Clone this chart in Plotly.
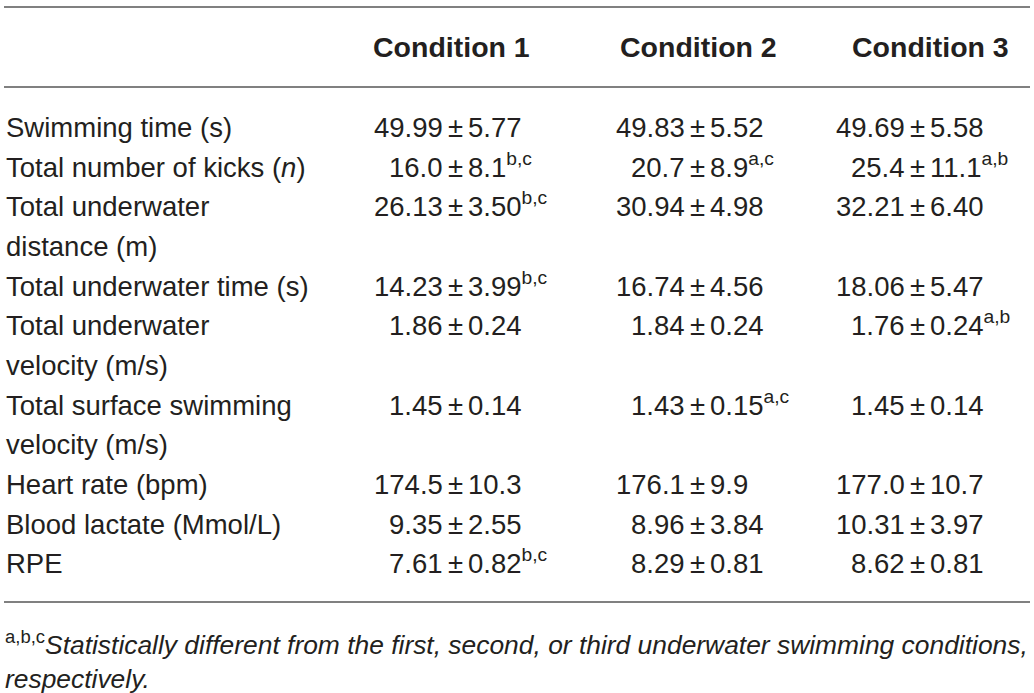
import plotly.graph_objects as go

# ---------------- data ----------------
conditions = ["Condition 1", "Condition 2", "Condition 3"]
row_labels = [
    ["Swimming time (s)"],
    ["Total number of kicks (<i>n</i>)"],
    ["Total underwater", "distance (m)"],
    ["Total underwater time (s)"],
    ["Total underwater", "velocity (m/s)"],
    ["Total surface swimming", "velocity (m/s)"],
    ["Heart rate (bpm)"],
    ["Blood lactate (Mmol/L)"],
    ["RPE"],
]
c1_mean = ["49.99", "16.0", "26.13", "14.23", "1.86", "1.45", "174.5", "9.35", "7.61"]
c1_sd   = ["5.77", "8.1", "3.50", "3.99", "0.24", "0.14", "10.3", "2.55", "0.82"]
c1_sig  = ["", "b,c", "b,c", "b,c", "", "", "", "", "b,c"]
c2_mean = ["49.83", "20.7", "30.94", "16.74", "1.84", "1.43", "176.1", "8.96", "8.29"]
c2_sd   = ["5.52", "8.9", "4.98", "4.56", "0.24", "0.15", "9.9", "3.84", "0.81"]
c2_sig  = ["", "a,c", "", "", "", "a,c", "", "", ""]
c3_mean = ["49.69", "25.4", "32.21", "18.06", "1.76", "1.45", "177.0", "10.31", "8.62"]
c3_sd   = ["5.58", "11.1", "6.40", "5.47", "0.24", "0.14", "10.7", "3.97", "0.81"]
c3_sig  = ["", "a,b", "", "", "a,b", "", "", "", ""]
footnote_sup = "a,b,c"
footnote_lines = [
    "Statistically different from the first, second, or third underwater swimming conditions,",
    "respectively.",
]

# ---------------- layout params ----------------
W, H = 1034, 693
FONT = "Liberation Sans, Arial, Helvetica, sans-serif"
TXT = "#231f20"
FS = 27.5
pm_x = [455, 697, 917]       # x of the ± sign per column
head_x = [451, 698, 930]
head_y = 47
line0_y, line_step = 127.5, 39.68
gap = 11.5
base_off = 16.5              # from text centre to bottom of text box

cols = [(c1_mean, c1_sd, c1_sig), (c2_mean, c2_sd, c2_sig), (c3_mean, c3_sd, c3_sig)]

fig = go.Figure()
ann = []

def add(text, x, y, xanchor, size=FS, color=TXT, yanchor="bottom"):
    ann.append(dict(text=text, x=x, y=y, xref="x", yref="y", xanchor=xanchor,
                    yanchor=yanchor, showarrow=False, borderpad=0,
                    font=dict(family=FONT, size=size, color=color)))

for j, c in enumerate(conditions):
    add("<b>" + c + "</b>", head_x[j], head_y, "center", size=28.5, yanchor="middle")

line_idx = 0
for i, lab in enumerate(row_labels):
    y0 = line0_y + line_step * line_idx + base_off
    for k, part in enumerate(lab):
        add(part, 5, line0_y + line_step * (line_idx + k) + base_off, "left")
    for j, (m, s, g) in enumerate(cols):
        add(m[i], pm_x[j] - gap, y0, "right")
        add("±", pm_x[j], y0, "center")
        sd_txt = s[i] + (("<sup>" + g[i] + "</sup>") if g[i] else "")
        add(sd_txt, pm_x[j] + gap, y0, "left")
    line_idx += len(lab)

add("<sup>" + footnote_sup + "</sup><i>" + footnote_lines[0] + "</i>", 4, 643, "left",
    size=26.4, yanchor="middle")
add("<i>" + footnote_lines[1] + "</i>", 4, 679, "left", size=26.4, yanchor="middle")

shapes = []
for yy in [7, 87, 602]:
    shapes.append(dict(type="line", xref="x", yref="y", x0=4, x1=1030, y0=yy, y1=yy,
                       line=dict(color="#808080", width=2)))

fig.update_layout(
    width=W, height=H, margin=dict(l=0, r=0, t=0, b=0),
    paper_bgcolor="white", plot_bgcolor="white",
    xaxis=dict(range=[0, W], visible=False, fixedrange=True),
    yaxis=dict(range=[H, 0], visible=False, fixedrange=True),
    annotations=ann, shapes=shapes, showlegend=False,
)
fig.write_html("out.html", config={"displayModeBar": False},
               post_script="document.body.style.margin='0';document.body.style.overflow='hidden';")
